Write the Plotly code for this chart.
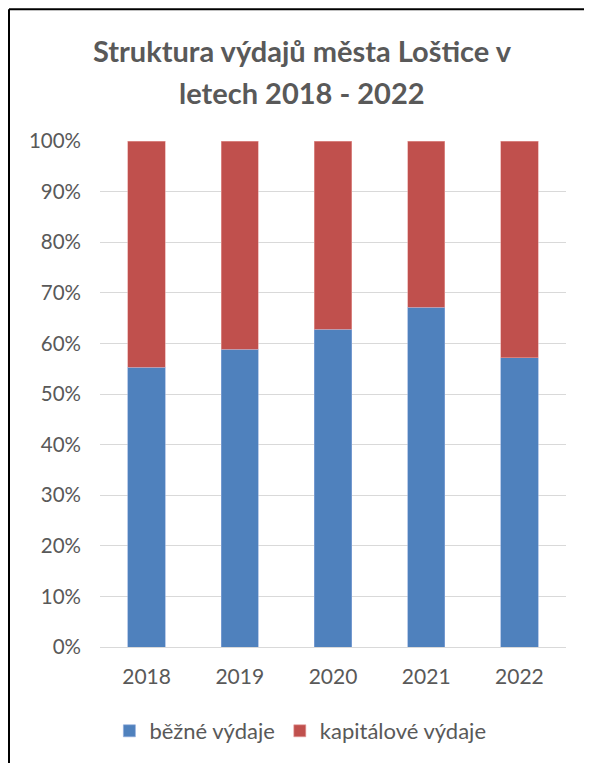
import plotly.graph_objects as go

years = ["2018", "2019", "2020", "2021", "2022"]
bezne = [55.3, 58.8, 62.8, 67.1, 57.2]
kapitalove = [44.7, 41.2, 37.2, 32.9, 42.8]
title_lines = ["Struktura výdajů města Loštice v", "letech 2018 - 2022"]

W, H = 584, 755
L, R, T, B = 92, 26, 133, 115
pw, ph = W - L - R, H - T - B

def px(X):
    return (X - L) / pw

def py(Y):
    return (H - B - Y) / ph

fig = go.Figure()
fig.add_trace(go.Bar(x=years, y=bezne, name="běžné výdaje",
                     marker=dict(color="#4F81BD", line=dict(color="#8EAADB", width=0.6))))
fig.add_trace(go.Bar(x=years, y=kapitalove, name="kapitálové výdaje",
                     marker=dict(color="#C0504D", line=dict(color="#E6A09E", width=0.6))))

annotations = []
for i, (line, yc) in enumerate(zip(title_lines, [42, 84])):
    annotations.append(dict(text="<b>" + line + "</b>", xref="paper", yref="paper",
                            x=px(294), y=py(yc), xanchor="center", yanchor="middle",
                            showarrow=False,
                            font=dict(size=29, color="#595959", family="Lato, sans-serif")))

fig.update_layout(
    width=W, height=H,
    margin=dict(l=L, r=R, t=T, b=B),
    barmode="stack", bargap=0.6,
    paper_bgcolor="white", plot_bgcolor="white",
    font=dict(family="Lato, Liberation Sans, sans-serif", size=20, color="#595959"),
    annotations=annotations,
    legend=dict(orientation="h", x=0.43, xanchor="center", y=py(723), yanchor="middle",
                font=dict(size=22, color="#595959"), itemwidth=30, traceorder="normal"),
    xaxis=dict(showgrid=False, showline=True, linecolor="#D9D9D9", linewidth=1,
               ticks="", tickfont=dict(size=21, color="#595959"), ticklabelstandoff=11),
    yaxis=dict(range=[0, 100], dtick=10, ticksuffix="%", showgrid=True,
               gridcolor="#D9D9D9", gridwidth=1, zeroline=False, showline=False,
               ticks="", tickfont=dict(size=20.5, color="#595959"), ticklabelstandoff=18),
    shapes=[
        dict(type="line", xref="paper", yref="paper", x0=px(1), x1=px(620), y0=py(1), y1=py(1),
             line=dict(color="black", width=2)),
        dict(type="line", xref="paper", yref="paper", x0=px(1), x1=px(1), y0=py(1), y1=py(800),
             line=dict(color="black", width=2)),
    ],
)

fig.write_html("out.html")
